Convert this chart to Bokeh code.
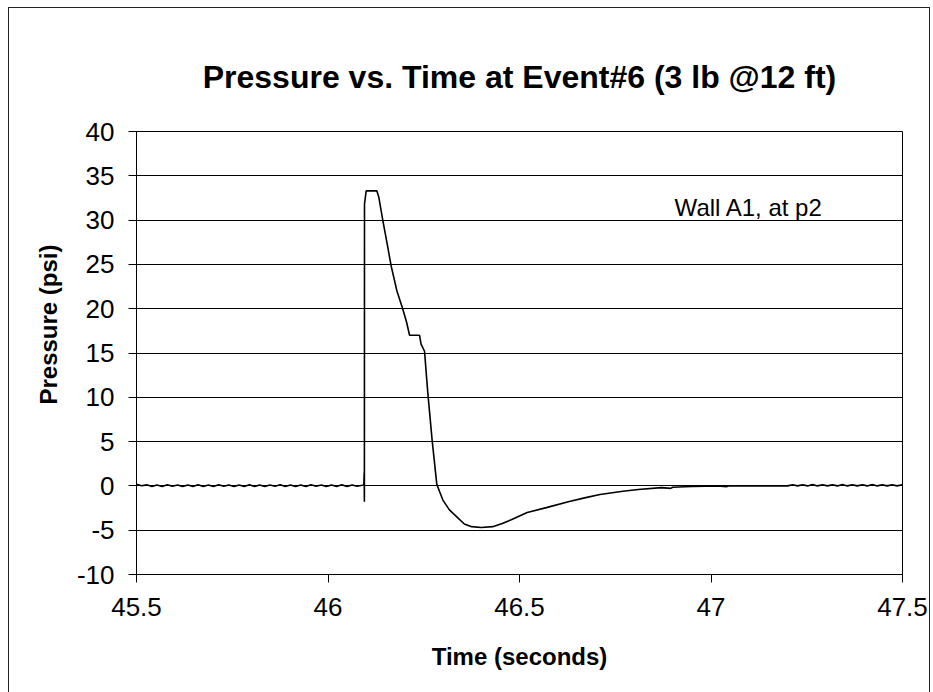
from bokeh.plotting import figure
from bokeh.models import FixedTicker, Title, Label, ColumnDataSource
from bokeh.embed import file_html
from bokeh.resources import INLINE

FONT = "Liberation Sans"

# Tick positions and labels
x_ticks = [45.5, 46.0, 46.5, 47.0, 47.5]
x_tick_labels = ["45.5", "46", "46.5", "47", "47.5"]
y_ticks = [-10, -5, 0, 5, 10, 15, 20, 25, 30, 35, 40]
y_tick_labels = ["-10", "-5", "0", "5", "10", "15", "20", "25", "30", "35", "40"]

# Pre-event baseline, sampled every 0.0134 s from 45.50 s
base_t0 = 45.50
base_dt = 0.0134
base_p = [0.18, 0.02, 0.12, -0.06, 0.10, -0.08, 0.12, -0.05, 0.10, -0.08,
          0.11, -0.06, 0.12, -0.08, 0.10, -0.07, 0.12, -0.05, 0.11, -0.08,
          0.10, -0.06, 0.12, -0.08, 0.11, -0.07, 0.10, -0.05, 0.12, -0.08,
          0.10, -0.06, 0.11, -0.08, 0.12, -0.05, 0.10, -0.07, 0.11, -0.06,
          0.12, -0.08, 0.10, -0.05, 0.08]

# Blast event: arrival spike, decay, negative phase and recovery
event_t = [46.0935, 46.0945, 46.0950, 46.0953, 46.0997, 46.1274, 46.1326,
           46.1430, 46.1550, 46.1650, 46.1800, 46.1950, 46.2050, 46.2130,
           46.2390, 46.2430, 46.2520, 46.2606, 46.2718, 46.2840, 46.2910,
           46.3000, 46.3170, 46.3390, 46.3560, 46.3750, 46.4000, 46.4300,
           46.4550, 46.4800, 46.5200, 46.5700, 46.6300, 46.6700, 46.7100,
           46.7700, 46.8100, 46.8700, 46.8950, 46.9000, 46.9500, 47.0200,
           47.0400, 47.0450, 47.1900]
event_p = [0.10, 1.50, -1.80, 31.80, 33.30, 33.30, 32.60,
           30.00, 27.20, 24.80, 22.00, 20.00, 18.50, 17.00,
           17.00, 16.00, 15.20, 10.50, 5.20, 0.20, -0.60,
           -1.60, -2.70, -3.60, -4.30, -4.60, -4.70, -4.60,
           -4.25, -3.80, -3.00, -2.45, -1.75, -1.35, -0.97,
           -0.60, -0.40, -0.20, -0.28, -0.15, -0.07, 0.00,
           -0.10, 0.00, 0.00]

# Post-event baseline, sampled every 0.013 s from 47.20 s
tail_t0 = 47.20
tail_dt = 0.013
tail_p = [0.00, 0.14, 0.00, 0.14, 0.00, 0.15, 0.00, 0.14, 0.00, 0.14,
          0.00, 0.15, 0.00, 0.14, 0.00, 0.14, 0.00, 0.15, 0.00, 0.14,
          0.00, 0.14, 0.00, 0.12]

t_all = ([base_t0 + i * base_dt for i in range(len(base_p))]
         + event_t
         + [tail_t0 + i * tail_dt for i in range(len(tail_p))])
p_all = base_p + event_p + tail_p
source = ColumnDataSource(data=dict(t=t_all, p=p_all))

p = figure(width=922, height=690,
           x_range=(45.5, 47.5), y_range=(-10, 40),
           output_backend="svg", toolbar_location=None,
           min_border_left=127, min_border_right=29,
           min_border_top=123, min_border_bottom=124,
           background_fill_color="white", border_fill_color="white",
           styles={"margin-left": "8px", "margin-top": "7px",
                   "border": "1px solid #222222"})

p.title.text = "Pressure vs. Time at Event#6 (3 lb @12 ft)"
p.title.text_font = FONT
p.title.text_font_size = "32px"
p.title.text_font_style = "bold"
p.title.align = "center"
p.title.text_color = "black"
p.title.standoff = 74

p.line("t", "p", source=source, line_color="black", line_width=1.6)

# Axes
for ax in (p.xaxis[0], p.yaxis[0]):
    ax.axis_line_color = "black"
    ax.axis_line_width = 1
    ax.major_tick_line_color = "black"
    ax.major_tick_out = 8
    ax.major_tick_in = 0
    ax.minor_tick_line_color = None
    ax.major_label_text_font = FONT
    ax.major_label_text_font_size = "26px"
    ax.major_label_text_color = "black"

p.xaxis.ticker = FixedTicker(ticks=x_ticks)
p.xaxis.major_label_overrides = dict(zip(x_ticks, x_tick_labels))
p.xaxis.major_label_standoff = 15
p.xaxis.axis_label = "Time (seconds)"
p.xaxis.axis_label_text_font = FONT
p.xaxis.axis_label_text_font_size = "24px"
p.xaxis.axis_label_text_font_style = "bold"
p.xaxis.axis_label_text_color = "black"
p.xaxis.axis_label_standoff = 24

p.yaxis.ticker = FixedTicker(ticks=y_ticks)
p.yaxis.major_label_overrides = dict(zip(y_ticks, y_tick_labels))
p.yaxis.major_label_standoff = 14

p.add_layout(Title(text="Pressure (psi)", align="right", offset=113,
                   text_font=FONT, text_font_size="24px",
                   text_font_style="bold", text_color="black",
                   standoff=23), "left")

# Grid and frame
p.xgrid.visible = False
p.ygrid.grid_line_color = "black"
p.ygrid.grid_line_width = 1
p.outline_line_color = "black"
p.outline_line_width = 1

p.add_layout(Label(x=46.905, y=31.4, text="Wall A1, at p2",
                   text_font=FONT, text_font_size="24px",
                   text_color="black", text_baseline="alphabetic"))

open("out.html", "w").write(file_html(p, INLINE))
